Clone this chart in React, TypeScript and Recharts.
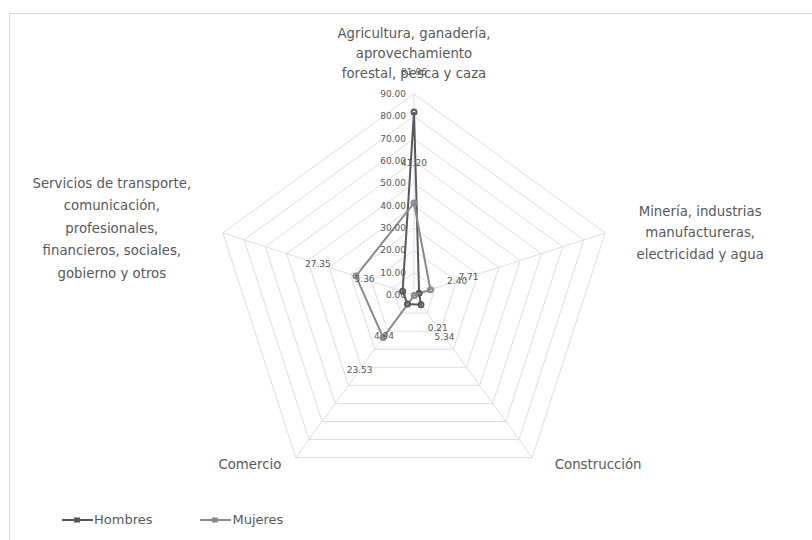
import React from "react";
import { RadarChart, Radar, PolarGrid, PolarAngleAxis, PolarRadiusAxis, LabelList, Legend } from "recharts";

const categories = [
  "Agricultura, ganadería, aprovechamiento forestal, pesca y caza",
  "Minería, industrias manufactureras, electricidad y agua",
  "Construcción",
  "Comercio",
  "Servicios de transporte, comunicación, profesionales, financieros, sociales, gobierno y otros",
];
const categoryLines = [
  ["Agricultura, ganadería,", "aprovechamiento", "forestal, pesca y caza"],
  ["Minería, industrias", "manufactureras,", "electricidad y agua"],
  ["Construcción"],
  ["Comercio"],
  ["Servicios de transporte,", "comunicación,", "profesionales,", "financieros, sociales,", "gobierno y otros"],
];
const hombres = [81.96, 2.4, 5.34, 4.94, 5.36];
const mujeres = [41.2, 7.71, 0.21, 23.53, 27.35];
const radiusTicks = [0, 10, 20, 30, 40, 50, 60, 70, 80, 90];

const data = categories.map((c, i) => ({ category: c, idx: i, Hombres: hombres[i], Mujeres: mujeres[i] }));

const FONT = "'DejaVu Sans', sans-serif";
const TEXT = "#595959";
const C_H = "#595959";
const C_M = "#8a8a8a";

const CX = 414;
const CY = 295;
const R = 201;

// label placement per category: dx from vertex, first line offset, line spacing
const place = [
  { dx: 0, dy0: -61, step: 20 },
  { dx: 95, dy0: -22, step: 21.5 },
  { dx: 66, dy0: 7, step: 20 },
  { dx: -46, dy0: 7, step: 20 },
  { dx: -111, dy0: -50, step: 22.5 },
];

const AngleTick = (props: any) => {
  const { index } = props;
  const a = ((90 - index * 72) * Math.PI) / 180;
  const vx = CX + R * Math.cos(a);
  const vy = CY - R * Math.sin(a);
  const lines = categoryLines[index] || [];
  const p = place[index];
  return (
    <text x={vx + p.dx} y={vy} textAnchor="middle" fontFamily={FONT} fontSize={13.3} fill={TEXT}>
      {lines.map((l, i) => (
        <tspan key={i} x={vx + p.dx} y={vy + p.dy0 + i * p.step} dy="0.35em">
          {l}
        </tspan>
      ))}
    </text>
  );
};

const RadiusTick = (props: any) => {
  const { x, y, payload } = props;
  return (
    <text x={x - 8} y={y} dy="0.35em" textAnchor="end" fontFamily={FONT} fontSize={9} fill={TEXT}>
      {Number(payload.value).toFixed(2)}
    </text>
  );
};

const makeLabel = () => (props: any) => {
  const { x, y, value, index } = props;
  const a = ((90 - index * 72) * Math.PI) / 180;
  const lx = x + 40 * Math.cos(a);
  const ly = y - 40 * Math.sin(a);
  return (
    <text x={lx} y={ly} dy="0.35em" textAnchor="middle" fontFamily={FONT} fontSize={9} fill={TEXT}>
      {Number(value).toFixed(2)}
    </text>
  );
};

const LegendContent = () => {
  const items = [
    { name: "Hombres", color: C_H },
    { name: "Mujeres", color: C_M },
  ];
  return (
    <div style={{ display: "flex", fontFamily: FONT, fontSize: 13, color: TEXT }}>
      {items.map((it, i) => (
        <div key={i} style={{ display: "flex", alignItems: "center", marginRight: i === 0 ? 48 : 0 }}>
          <svg width={32} height={10}>
            <line x1={0} y1={5} x2={31} y2={5} stroke={it.color} strokeWidth={2} />
            <rect x={12} y={2.5} width={6} height={5} fill={it.color} />
          </svg>
          <span>{it.name}</span>
        </div>
      ))}
    </div>
  );
};

export default function App() {
  return (
    <div style={{ position: "absolute", left: 0, top: 0, width: 812, height: 540, overflow: "hidden", background: "#fff" }}>
      <div style={{ position: "absolute", left: 9, top: 13, width: 900, height: 700, border: "1px solid #d9d9d9" }} />
      <div style={{ position: "absolute", left: 0, top: 0 }}>
        <RadarChart width={812} height={540} data={data} cx={CX} cy={CY} outerRadius={R} startAngle={90} endAngle={-270}>
          <PolarGrid gridType="polygon" stroke="#dedede" strokeWidth={1} />
          <PolarAngleAxis dataKey="category" tick={<AngleTick />} tickLine={false} axisLine={false} tickSize={0} />
          <PolarRadiusAxis angle={90} domain={[0, 90]} ticks={radiusTicks} tickCount={10} tick={<RadiusTick />} axisLine={false} />
          <Radar
            name="Hombres"
            dataKey="Hombres"
            stroke={C_H}
            strokeWidth={2}
            fill="none"
            fillOpacity={0}
            dot={{ r: 2.5, fill: C_H, stroke: C_H }}
            isAnimationActive={false}
          >
            <LabelList dataKey="Hombres" content={makeLabel()} />
          </Radar>
          <Radar
            name="Mujeres"
            dataKey="Mujeres"
            stroke={C_M}
            strokeWidth={2}
            fill="none"
            fillOpacity={0}
            dot={{ r: 2.5, fill: C_M, stroke: C_M }}
            isAnimationActive={false}
          >
            <LabelList dataKey="Mujeres" content={makeLabel()} />
          </Radar>
          <Legend content={<LegendContent />} wrapperStyle={{ position: "absolute", left: 62, top: 512, width: 340 }} />
        </RadarChart>
      </div>
    </div>
  );
}
